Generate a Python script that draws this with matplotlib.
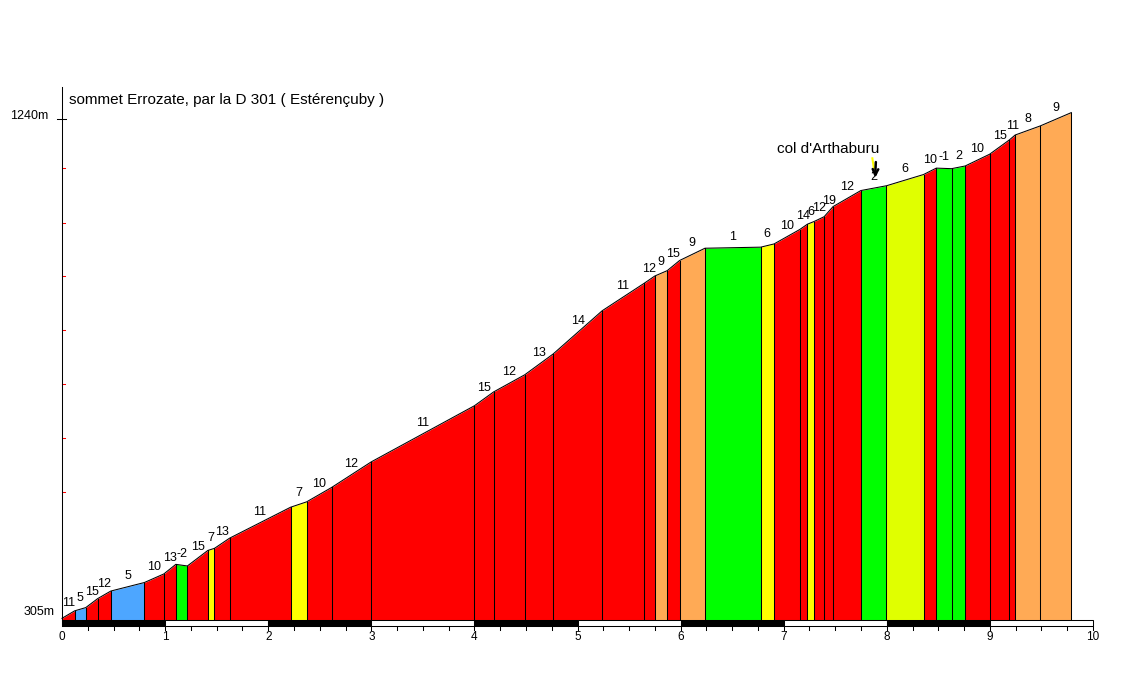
import numpy as np
import matplotlib.pyplot as plt
from matplotlib.patches import Rectangle

# profile data: distance (km) and altitude (m) at each change of gradient
km = [0, 0.123, 0.23, 0.347, 0.473, 0.799, 0.987, 1.104, 1.216, 1.414, 1.479,
      1.625, 2.217, 2.372, 2.615, 3.0, 4.0, 4.187, 4.488, 4.764, 5.24, 5.644,
      5.75, 5.87, 5.99, 6.236, 6.777, 6.906, 7.155, 7.23, 7.294, 7.392, 7.479,
      7.748, 7.997, 8.356, 8.48, 8.628, 8.76, 8.997, 9.19, 9.245, 9.488, 9.79]
alt = [305, 319, 325, 342, 356, 372, 388, 406, 403, 432, 436,
       455, 513, 523, 550, 598, 703, 729, 761, 800, 881, 932,
       946, 956, 975, 998, 1000, 1006, 1033, 1043, 1048, 1057, 1076,
       1106, 1115, 1136, 1148, 1147, 1152, 1174, 1201, 1210, 1227, 1252]
pentes = ['11', '5', '15', '12', '5', '10', '13', '-2', '15', '7', '13',
          '11', '7', '10', '12', '11', '15', '12', '13', '14', '11', '12',
          '9', '15', '9', '1', '6', '10', '14', '6', '12', '19', '12',
          '2', '6', '10', '-1', '2', '10', '15', '11', '8', '9']
couleurs = ['r', 'b', 'r', 'r', 'b', 'r', 'r', 'g', 'r', 'y', 'r',
            'r', 'y', 'r', 'r', 'r', 'r', 'r', 'r', 'r', 'r', 'r',
            'o', 'r', 'o', 'g', 'y', 'r', 'r', 'y', 'r', 'r', 'r',
            'g', 'v', 'r', 'g', 'g', 'r', 'r', 'r', 'o', 'o']
graduations = [541, 643, 744, 845, 946, 1046, 1148]

COULEUR = {'r': '#ff0000', 'b': '#4da6ff', 'g': '#00ff00', 'y': '#ffff00',
           'o': '#ffaa55', 'v': '#e0ff00'}

# pixel scale of the original picture
X0, PX_KM = 62, 103.1
Y0, M_PX = 618.3, 1.8726
W, H = 1136, 673
BASE = 301.8      # top of the km bar
BAR_BAS = 290.6   # bottom of the km bar
LW = 0.75

plt.rcParams['font.family'] = ['Liberation Sans', 'DejaVu Sans']

fig = plt.figure(figsize=(W / 100, H / 100), dpi=100)
ax = fig.add_axes([0, 0, 1, 1])
ax.set_xlim(-X0 / PX_KM, (W - X0) / PX_KM)
ax.set_ylim(305 - (H - Y0) * M_PX, 305 + Y0 * M_PX)
ax.axis('off')

# coloured segments
for i in range(len(pentes)):
    xs = [km[i], km[i + 1]]
    ax.fill_between(xs, [BASE, BASE], [alt[i], alt[i + 1]],
                    color=COULEUR[couleurs[i]], lw=0, zorder=1)
    ax.annotate(pentes[i], ((km[i] + km[i + 1]) / 2, (alt[i] + alt[i + 1]) / 2),
                xytext=(0, 8), textcoords='offset points',
                ha='center', va='center', fontsize=9, zorder=5)

for x, a in zip(km, alt):
    ax.plot([x, x], [BASE, a], color='black', lw=LW, zorder=2)
ax.plot(km, alt, color='black', lw=LW, zorder=3)

# km bar
for k in range(10):
    ax.add_patch(Rectangle((k, BAR_BAS), 1, BASE - BAR_BAS,
                           facecolor='black' if k % 2 == 0 else 'white',
                           edgecolor='black', lw=LW, zorder=4))
for t in np.arange(0.25, 10.01, 0.25):
    ax.plot([t, t], [BAR_BAS, BAR_BAS - 4 * M_PX], color='black', lw=LW)
for k in range(11):
    ax.text(k, 305 - 19 * M_PX, str(k), ha='center', va='center', fontsize=8.5)

# vertical axis
ax.plot([0, 0], [BAR_BAS, 1300], color='black', lw=LW, zorder=4)
ax.plot([-5 / PX_KM, 4 / PX_KM], [1240, 1240], color='black', lw=LW)
for g in graduations:
    ax.plot([0, 2.5 / PX_KM], [g, g], color='#ff0000', lw=LW)
ax.text(-14 / PX_KM, 1240 + 3 * M_PX, '1240m', ha='right', va='center', fontsize=9)
ax.text(-7 / PX_KM, 305 + 6 * M_PX, '305m', ha='right', va='center', fontsize=9)

ax.text(7 / PX_KM, 305 + 518 * M_PX, 'sommet Errozate, par la D 301 ( Estérençuby )',
        ha='left', va='center', fontsize=11)

# col
ax.text(7.43, 305 + 469 * M_PX, "col d'Arthaburu", ha='center', va='center', fontsize=11)
ax.plot([7.86, 7.875], [305 + 460 * M_PX, 305 + 450 * M_PX], color='#ffff00', lw=1.5)
ax.annotate('', xy=(7.885, 305 + 438 * M_PX), xytext=(7.895, 305 + 459 * M_PX),
            arrowprops=dict(arrowstyle='->', color='black', lw=1.8))

fig.savefig('out.png', dpi=100)
